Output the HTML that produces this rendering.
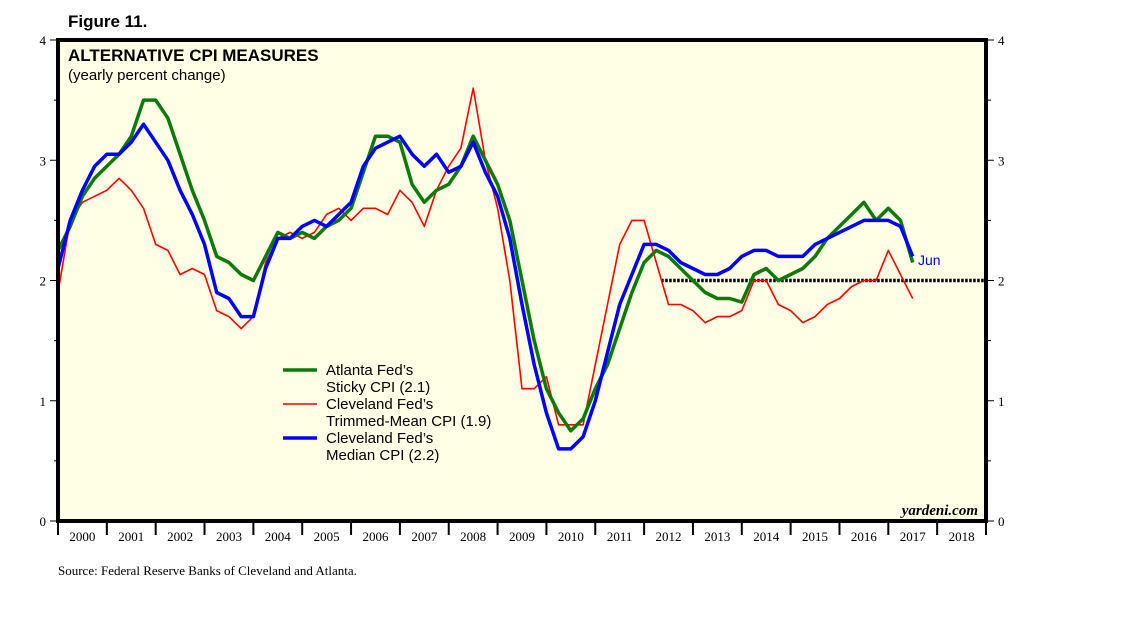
<!DOCTYPE html>
<html><head><meta charset="utf-8"><style>
body{margin:0;background:#fff;width:1138px;height:621px;overflow:hidden;font-family:"Liberation Sans",sans-serif}
</style></head><body>
<svg id="chart" width="1138" height="621" xmlns="http://www.w3.org/2000/svg"></svg>
<script>
const years=['2000','2001','2002','2003','2004','2005','2006','2007','2008','2009','2010','2011','2012','2013','2014','2015','2016','2017','2018'];
const yTicks=[0,1,2,3,4];
const sticky=[2.25,2.45,2.7,2.85,2.95,3.05,3.2,3.5,3.5,3.35,3.05,2.75,2.5,2.2,2.15,2.05,2.0,2.2,2.4,2.35,2.4,2.35,2.45,2.5,2.6,2.9,3.2,3.2,3.15,2.8,2.65,2.75,2.8,2.95,3.2,3.0,2.8,2.5,2.0,1.5,1.1,0.9,0.75,0.85,1.1,1.3,1.6,1.9,2.15,2.25,2.2,2.1,2.0,1.9,1.85,1.85,1.82,2.05,2.1,2.0,2.05,2.1,2.2,2.35,2.45,2.55,2.65,2.5,2.6,2.5,2.15];
const trimmed=[1.9,2.5,2.65,2.7,2.75,2.85,2.75,2.6,2.3,2.25,2.05,2.1,2.05,1.75,1.7,1.6,1.7,2.15,2.35,2.4,2.35,2.4,2.55,2.6,2.5,2.6,2.6,2.55,2.75,2.65,2.45,2.75,2.95,3.1,3.6,3.0,2.6,2.0,1.1,1.1,1.2,0.8,0.8,0.8,1.3,1.8,2.3,2.5,2.5,2.15,1.8,1.8,1.75,1.65,1.7,1.7,1.75,2.0,2.0,1.8,1.75,1.65,1.7,1.8,1.85,1.95,2.0,2.0,2.25,2.05,1.85];
const median=[2.1,2.5,2.75,2.95,3.05,3.05,3.15,3.3,3.15,3.0,2.75,2.55,2.3,1.9,1.85,1.7,1.7,2.1,2.35,2.35,2.45,2.5,2.45,2.55,2.65,2.95,3.1,3.15,3.2,3.05,2.95,3.05,2.9,2.95,3.15,2.9,2.7,2.35,1.8,1.3,0.9,0.6,0.6,0.7,1.0,1.4,1.8,2.05,2.3,2.3,2.25,2.15,2.1,2.05,2.05,2.1,2.2,2.25,2.25,2.2,2.2,2.2,2.3,2.35,2.4,2.45,2.5,2.5,2.5,2.45,2.2];
const startYear=2000, stepYear=0.25, refLevel=2, refStart=2012.35;

const L=58,R=986,T=40,B=521;
const X=yr=>L+(yr-2000)/19*(R-L);
const Y=v=>B-v/4*(B-T);
const svg=document.getElementById('chart');
const NS='http://www.w3.org/2000/svg';
function mk(tag,attrs,parent){const e=document.createElementNS(NS,tag);for(const k in attrs)e.setAttribute(k,attrs[k]);(parent||svg).appendChild(e);return e;}
function txt(s,attrs){const e=mk('text',attrs);e.textContent=s;return e;}

const bg=mk('rect',{x:L,y:T,width:R-L,height:B-T,fill:'#ffffe5'});



// y ticks both sides
yTicks.forEach(v=>{
  const y=Y(v);
  const tl=mk('line',{x1:50,x2:L,y1:y,y2:y,stroke:'#000','stroke-width':1});
  
  
  const tr=mk('line',{x1:R,x2:994,y1:y,y2:y,stroke:'#000','stroke-width':1});
  
  
  const a=txt(String(v),{x:46,y:y+5,'font-family':'Liberation Serif, serif','font-size':13,'text-anchor':'end',fill:'#000'});
  
  
  const b=txt(String(v),{x:998,y:y+5,'font-family':'Liberation Serif, serif','font-size':13,fill:'#000'});
  
  
  if(v<4){
    const m=Y(v+0.5);
    const t1=mk('line',{x1:L-4,x2:L,y1:m,y2:m,stroke:'#000'});
    
    
    const t2=mk('line',{x1:R,x2:R+5,y1:m,y2:m,stroke:'#000'});
    
    
  }
});
// x labels
years.forEach((s,i)=>{
  const x0=X(2000+i);
  const tk=mk('line',{x1:x0,x2:x0,y1:B,y2:B+14,stroke:'#000','stroke-width':2});
  
  
  const t=txt(s,{x:X(2000+i+0.5),y:541,'font-family':'Liberation Serif, serif','font-size':13,'text-anchor':'middle'});
  
  
});
const tkEnd=mk('line',{x1:R,x2:R,y1:B,y2:B+14,stroke:'#000','stroke-width':2});



// reference line
const ref=mk('line',{x1:X(refStart),x2:R,y1:Y(refLevel),y2:Y(refLevel),stroke:'#000','stroke-width':3.5,'stroke-dasharray':'2.5 1.5'});



function series(arr,color,w,name){
  const pts=arr.map((v,i)=>X(startYear+i*stepYear).toFixed(1)+','+Y(v).toFixed(1)).join(' ');
  const p=mk('polyline',{points:pts,fill:'none',stroke:color,'stroke-width':w,'stroke-linejoin':'round'});
  
  
}
series(trimmed,'#ff0000',1.6,'trimmed-mean-cpi-line');
series(sticky,'#0a7a0a',3.5,'sticky-cpi-line');
series(median,'#0000ff',3.5,'median-cpi-line');

const fr=mk('rect',{x:L,y:T,width:R-L,height:B-T,fill:'none',stroke:'#000','stroke-width':4});



const jun=txt('Jun',{x:918,y:265,'font-size':14,fill:'#0000ff'});



const ttl=txt('Figure 11.',{x:68,y:27,'font-size':17,'font-weight':'bold'});


const t2=txt('ALTERNATIVE CPI MEASURES',{x:68,y:61,'font-size':17,'font-weight':'bold'});


const t3=txt('(yearly percent change)',{x:68,y:80,'font-size':15});


const yd=txt('yardeni.com',{x:978,y:515,'font-family':'Liberation Serif, serif','font-size':15,'font-weight':'bold','font-style':'italic','text-anchor':'end'});


const src=txt('Source: Federal Reserve Banks of Cleveland and Atlanta.',{x:58,y:575,'font-family':'Liberation Serif, serif','font-size':13});



// legend
const leg=[['#0a7a0a',3.5,'Atlanta Fed\u2019s','Sticky CPI (2.1)',370],['#ff0000',1.6,'Cleveland Fed\u2019s','Trimmed-Mean CPI (1.9)',404],['#0000ff',3.5,'Cleveland Fed\u2019s','Median CPI (2.2)',438]];
leg.forEach(l=>{
  const g=mk('g',{});
  
  
  mk('line',{x1:283,x2:317,y1:l[4],y2:l[4],stroke:l[0],'stroke-width':l[1]},g);
  const a=mk('text',{x:326,y:l[4]+5,'font-size':15},g);a.textContent=l[2];
  const b=mk('text',{x:326,y:l[4]+22,'font-size':15},g);b.textContent=l[3];
});
</script>
</body></html>
